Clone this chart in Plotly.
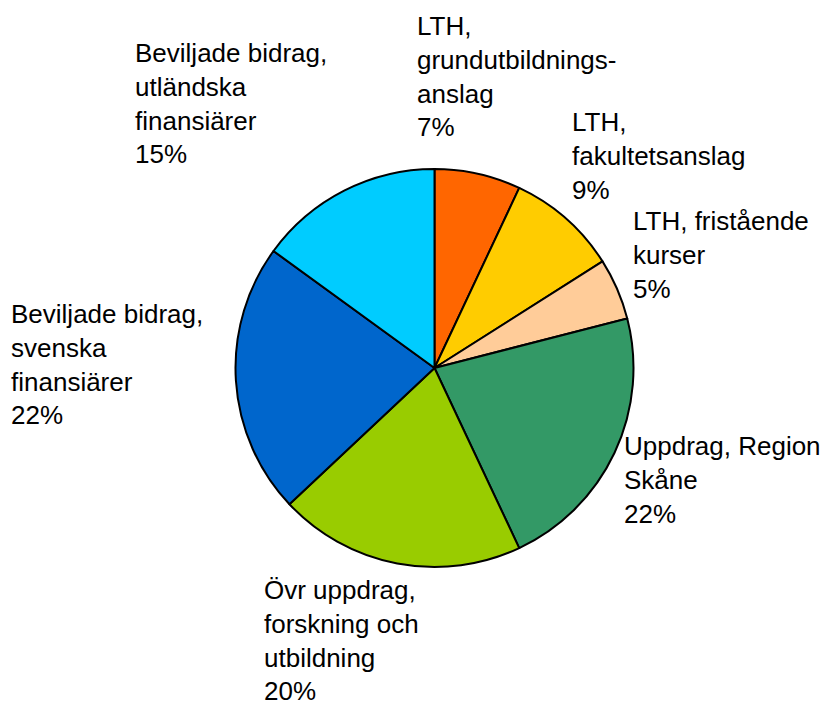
import plotly.graph_objects as go

labels = [
    "LTH,<br>grundutbildnings-<br>anslag",
    "LTH,<br>fakultetsanslag",
    "LTH, fristående<br>kurser",
    "Uppdrag, Region<br>Skåne",
    "Övr uppdrag,<br>forskning och<br>utbildning",
    "Beviljade bidrag,<br>svenska<br>finansiärer",
    "Beviljade bidrag,<br>utländska<br>finansiärer",
]
values = [7, 9, 5, 22, 20, 22, 15]
colors = ["#FF6600", "#FFCC00", "#FFCC99", "#339966", "#99CC00", "#0066CC", "#00CCFF"]

# label anchor positions (figure pixels: left x, top y)
label_pos = [(407, 1), (562, 97), (623, 196), (614, 421), (254, 565), (1, 289), (125, 28)]

W, H = 831, 704
fig = go.Figure(go.Pie(
    labels=labels,
    values=values,
    sort=False,
    direction="clockwise",
    rotation=0,
    marker=dict(colors=colors, line=dict(color="black", width=2)),
    textinfo="none",
    hoverinfo="label+percent",
    showlegend=False,
    domain=dict(x=[227 / W, 626 / W], y=[1 - 559 / H, 1 - 161 / H]),
))

total = sum(values)
annotations = []
for lab, v, (px, py) in zip(labels, values, label_pos):
    annotations.append(dict(
        text=f"{lab}<br>{round(100 * v / total)}%",
        x=px / W, y=1 - py / H, xref="paper", yref="paper",
        xanchor="left", yanchor="top", align="left", showarrow=False,
        font=dict(family="Liberation Sans, Arial, sans-serif", size=26, color="black"),
    ))

fig.update_layout(
    width=W, height=H,
    margin=dict(l=0, r=0, t=0, b=0),
    paper_bgcolor="white", plot_bgcolor="white",
    annotations=annotations,
)
fig.write_html("out.html")
